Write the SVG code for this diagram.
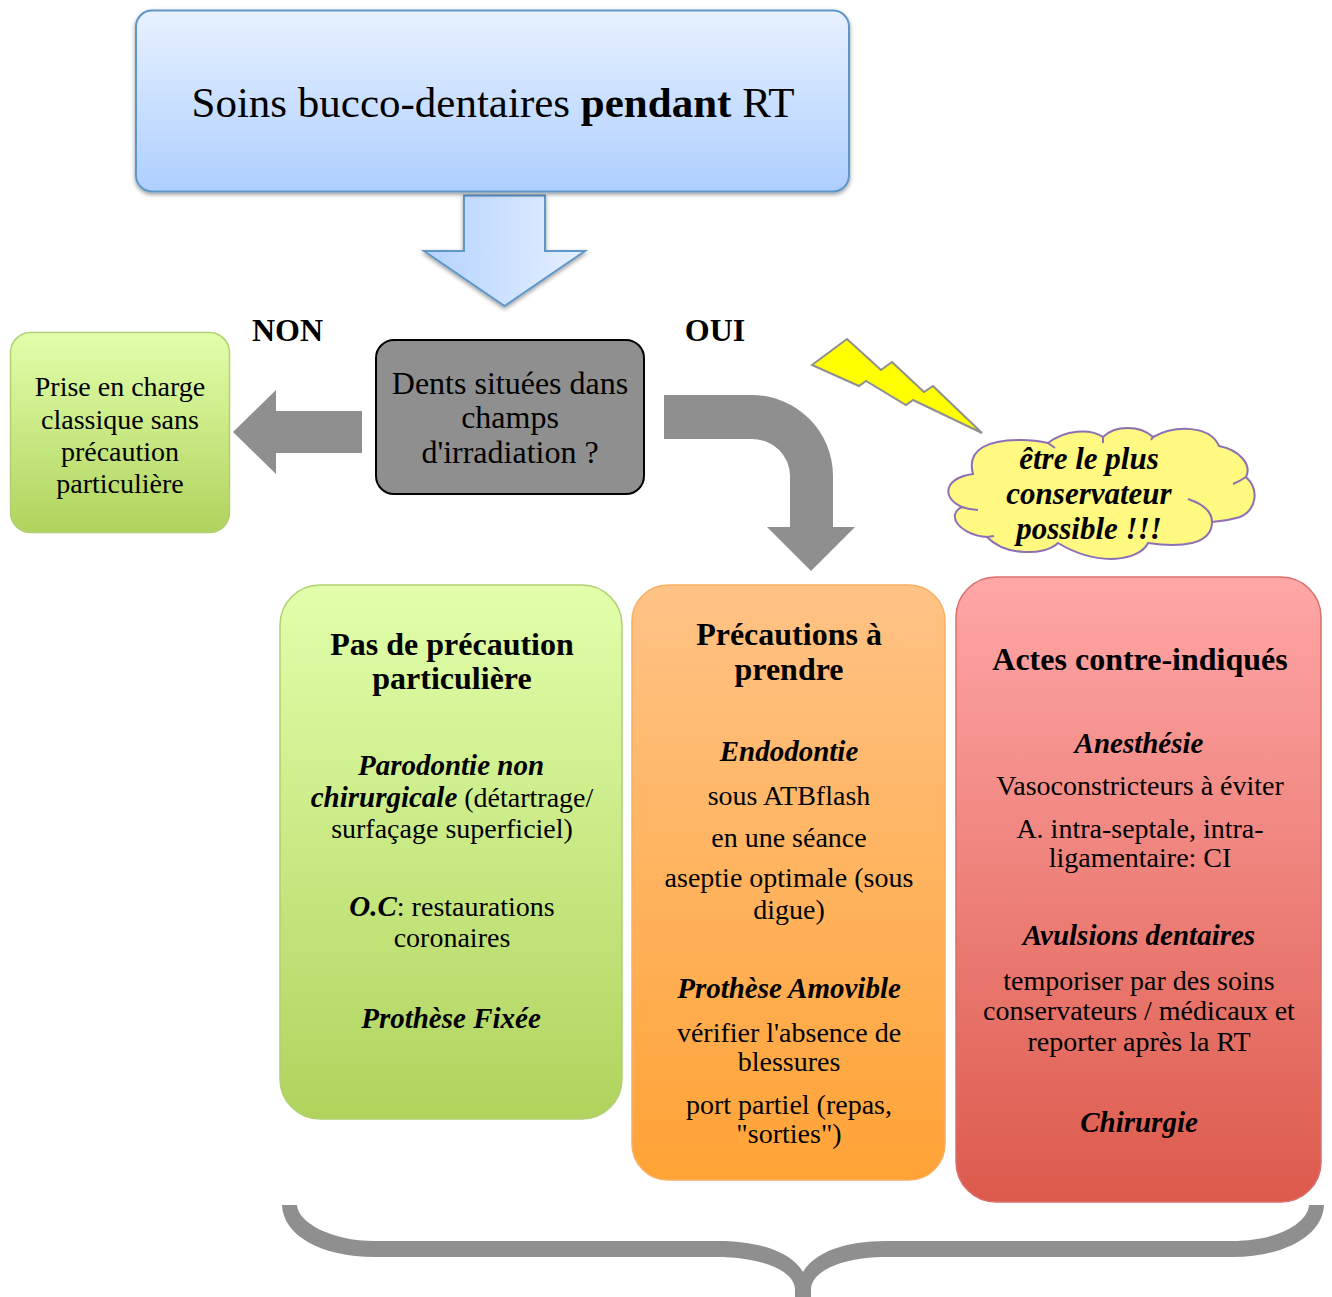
<svg xmlns="http://www.w3.org/2000/svg" width="1332" height="1297" viewBox="0 0 1332 1297">
<style>
text{font-family:"Liberation Serif","Times New Roman",serif;fill:#000;text-anchor:middle}
.t{font-size:28px}
.h{font-size:32px;font-weight:bold}
.s{font-size:29px;font-weight:bold;font-style:italic}
.g{fill:#8f8f8f}
.d{font-size:32px}
.c{font-size:31px;font-weight:bold;font-style:italic}
</style>
<defs>
<linearGradient id="gb" x1="0" y1="0" x2="0" y2="1"><stop offset="0" stop-color="#e8f1ff"/><stop offset="1" stop-color="#aecfff"/></linearGradient>
<linearGradient id="gh" x1="0" y1="0" x2="1" y2="0"><stop offset="0" stop-color="#b4d2ff"/><stop offset="1" stop-color="#e6f0ff"/></linearGradient>
<linearGradient id="gg" x1="0" y1="0" x2="0" y2="1"><stop offset="0" stop-color="#e2ffab"/><stop offset="1" stop-color="#b0d35d"/></linearGradient>
<linearGradient id="go" x1="0" y1="0" x2="0" y2="1"><stop offset="0" stop-color="#ffc386"/><stop offset="1" stop-color="#ffa336"/></linearGradient>
<linearGradient id="gr" x1="0" y1="0" x2="0" y2="1"><stop offset="0" stop-color="#ffa7a7"/><stop offset="1" stop-color="#dc5a4c"/></linearGradient>
<filter id="sh" x="-10%" y="-10%" width="120%" height="125%"><feDropShadow dx="0" dy="2" stdDeviation="2" flood-color="#000" flood-opacity="0.4"/></filter>
</defs>

<g id="connectors">
<path id="arrow-down" d="M464,195.500H545V251H585L504.500,306L424,251H464Z" fill="url(#gh)" stroke="#5f97c9" stroke-width="2" filter="url(#sh)"/>
<path id="arrow-non" class="g" d="M362,411V453H276V474L233,432L276,390V411Z"/>
<path id="arrow-oui" class="g" d="M664,395H752A81,81 0 0 1 833,476V527H855L811,571L767,527H790V476A38,37 0 0 0 752,439H664Z"/>
<path id="brace" class="g" d="M282,1205C283,1235 320,1257 375,1257H717C755,1257 795,1268 795,1290V1297H811V1290C811,1270 845,1257 886,1257H1232C1285,1257 1323,1235 1324,1205H1309C1308,1222 1280,1241 1232,1241H886C845,1241 815,1252 803,1272C791,1252 760,1241 717,1241H375C330,1241 298,1222 297,1205Z"/>
</g>

<g id="node-title">
<rect x="136" y="10.500" width="713" height="181" rx="16" fill="url(#gb)" stroke="#5f97c9" stroke-width="2" filter="url(#sh)"/>
<text x="493" y="117" style="font-size:43px">Soins bucco-dentaires <tspan font-weight="bold">pendant</tspan> RT</text>
</g>

<g id="node-decision">
<rect x="376" y="340" width="268" height="154" rx="18" fill="#8f8f8f" stroke="#000" stroke-width="2"/>
<text class="d" x="510" y="394">Dents situées dans</text>
<text class="d" x="510" y="428">champs</text>
<text class="d" x="510" y="463">d'irradiation ?</text>
</g>

<g id="label-non"><text class="h" x="287.500" y="341">NON</text></g>
<g id="label-oui"><text class="h" x="715" y="341">OUI</text></g>

<g id="node-classique">
<rect x="10.500" y="332.500" width="219" height="200" rx="20" fill="url(#gg)" stroke="#b3cf73" stroke-width="1.500"/>
<text class="t" x="120" y="396">Prise en charge</text>
<text class="t" x="120" y="429">classique sans</text>
<text class="t" x="120" y="461">précaution</text>
<text class="t" x="120" y="493">particulière</text>
</g>

<g id="bolt">
<path d="M812,365L847,339L881,370L892,362L924,392L933,386L982,433L913,400L906,405L866,381L859,386Z" fill="#ffff00" stroke="#8f8f8f" stroke-width="2"/>
</g>

<g id="node-cloud">
<path d="M973,474C966,448 990,440 1020,440C1030,440 1040,441 1048,443C1065,430 1090,428 1103,437C1115,425 1140,425 1153,437C1175,425 1210,425 1219,446C1240,450 1252,465 1246,477C1260,490 1256,510 1240,517C1230,520 1222,521 1212,522C1212,545 1180,548 1148,543C1140,560 1100,568 1058,543C1045,556 1005,556 987,537C960,535 945,515 962,507C940,497 945,478 973,474Z" fill="#fff981" stroke="#8d6fb4" stroke-width="2"/>
<path d="M1048,443L1055,448M1103,437V443M1153,437L1151,440M1246,477Q1240,481 1233,484M1212,522C1212,510 1200,503 1188,499M962,507Q970,510 978,510M987,537L994,536" fill="none" stroke="#8d6fb4" stroke-width="2"/>
<text class="c" x="1089" y="469">être le plus</text>
<text class="c" x="1089" y="504">conservateur</text>
<text class="c" x="1089" y="539">possible !!!</text>
</g>

<g id="node-pas-de-precaution">
<rect x="280" y="585" width="342" height="534" rx="40" fill="url(#gg)" stroke="#b3cf73" stroke-width="1.500"/>
<text class="h" x="452" y="655">Pas de précaution</text>
<text class="h" x="452" y="689">particulière</text>
<text class="s" x="451" y="775">Parodontie non</text>
<text class="t" x="452" y="807"><tspan class="s">chirurgicale</tspan> (détartrage/</text>
<text class="t" x="452" y="838">surfaçage superficiel)</text>
<text class="t" x="452" y="916"><tspan class="s">O.C</tspan>: restaurations</text>
<text class="t" x="452" y="947">coronaires</text>
<text class="s" x="451" y="1028">Prothèse Fixée</text>
</g>

<g id="node-precautions">
<rect x="632" y="585" width="313" height="595" rx="36" fill="url(#go)" stroke="#f8b062" stroke-width="1.500"/>
<text class="h" x="789" y="645">Précautions à</text>
<text class="h" x="789" y="680">prendre</text>
<text class="s" x="789" y="761">Endodontie</text>
<text class="t" x="789" y="805">sous ATBflash</text>
<text class="t" x="789" y="847">en une séance</text>
<text class="t" x="789" y="887">aseptie optimale (sous</text>
<text class="t" x="789" y="919">digue)</text>
<text class="s" x="789" y="998">Prothèse Amovible</text>
<text class="t" x="789" y="1042">vérifier l'absence de</text>
<text class="t" x="789" y="1071">blessures</text>
<text class="t" x="789" y="1114">port partiel (repas,</text>
<text class="t" x="789" y="1143">"sorties")</text>
</g>

<g id="node-contre-indiques">
<rect x="956" y="577" width="365" height="625" rx="40" fill="url(#gr)" stroke="#d9706d" stroke-width="1.500"/>
<text class="h" x="1140" y="670">Actes contre-indiqués</text>
<text class="s" x="1139" y="753">Anesthésie</text>
<text class="t" x="1140" y="795">Vasoconstricteurs à éviter</text>
<text class="t" x="1140" y="838">A. intra-septale, intra-</text>
<text class="t" x="1140" y="867">ligamentaire: CI</text>
<text class="s" x="1139" y="945">Avulsions dentaires</text>
<text class="t" x="1139" y="990">temporiser par des soins</text>
<text class="t" x="1139" y="1020">conservateurs / médicaux et</text>
<text class="t" x="1139" y="1051">reporter après la RT</text>
<text class="s" x="1139" y="1132">Chirurgie</text>
</g>
</svg>
